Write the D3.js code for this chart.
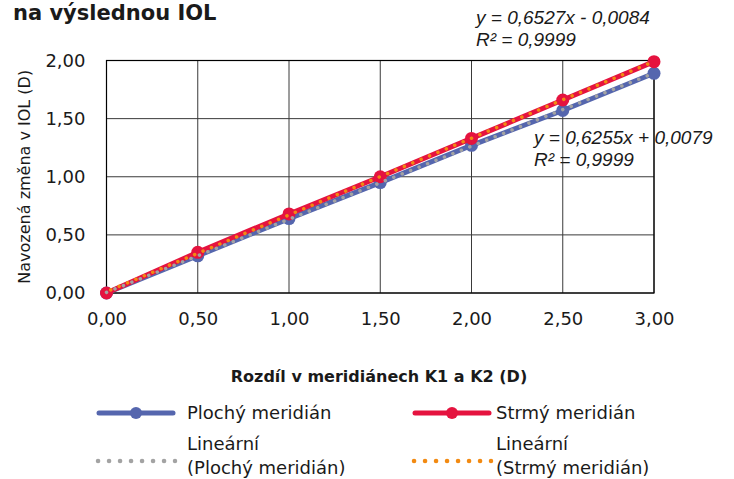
<!DOCTYPE html>
<html>
<head>
<meta charset="utf-8">
<script src="https://cdn.jsdelivr.net/npm/d3@7"></script>
<style>
  body { margin: 0; background: #fff; }
  text { font-family: "DejaVu Sans", sans-serif; fill: #1a1a1a; }
  .eq { font-family: "Liberation Sans", Arial, sans-serif; font-style: italic; }
</style>
</head>
<body>
<svg width="734" height="479"></svg>
<script>
var xValues = [0, 0.5, 1.0, 1.5, 2.0, 2.5, 3.0];
var plochy = [0, 0.32, 0.64, 0.95, 1.27, 1.57, 1.89];
var strmy = [0, 0.35, 0.68, 1.00, 1.33, 1.66, 1.99];
var seriesNames = ['Plochý meridián', 'Strmý meridián'];
var eqLabels = [['y = 0,6255x + 0,0079', 'R² = 0,9999'], ['y = 0,6527x - 0,0084', 'R² = 0,9999']];
var xTicks = [0, 0.5, 1, 1.5, 2, 2.5, 3];
var yTicks = [0, 0.5, 1, 1.5, 2];

var colors = ['#5566AE', '#E5133F'];
var trendColors = ['#A3A3A3', '#F28A12'];

var svg = d3.select('svg');
var plotLeft = 106.5, plotRight = 654, plotTop = 60.5, plotBottom = 293;

var x = d3.scaleLinear().domain([0, 3]).range([plotLeft, plotRight]);
var y = d3.scaleLinear().domain([0, 2]).range([plotBottom, plotTop]);
var fmt = function(d) { return d3.format('.2f')(d).replace('.', ','); };

// least squares trendline, like Excel's linear trendline
function fit(vals) {
    var mx = d3.mean(xValues), my = d3.mean(vals);
    var num = d3.sum(vals, function(v, i) { return (xValues[i] - mx) * (v - my); });
    var den = d3.sum(xValues, function(v) { return (v - mx) * (v - mx); });
    var k = num / den;
    return { k: k, q: my - k * mx };
}

// title (cut off at top in original)
svg.append('text').attr('x', 13).attr('y', 20)
    .style('font-size', '21px').style('font-weight', 'bold')
    .text('na výslednou IOL');

// grid
var grid = svg.append('g');
grid.selectAll('line.gx').data(xTicks).join('line')
    .attr('class', 'gx')
    .attr('x1', function(d) { return x(d); }).attr('x2', function(d) { return x(d); })
    .attr('y1', plotTop).attr('y2', plotBottom)
    .style('stroke', '#3a3a3a').style('stroke-width', 1);
grid.selectAll('line.gy').data(yTicks).join('line')
    .attr('class', 'gy')
    .attr('x1', plotLeft).attr('x2', plotRight)
    .attr('y1', function(d) { return y(d); }).attr('y2', function(d) { return y(d); })
    .style('stroke', '#3a3a3a').style('stroke-width', 1);
svg.append('rect').attr('x', plotLeft).attr('y', plotTop)
    .attr('width', plotRight - plotLeft).attr('height', plotBottom - plotTop)
    .style('fill', 'none').style('stroke', '#000').style('stroke-width', 1.2);

// axes labels
var xAxis = d3.axisBottom(x).tickValues(xTicks).tickFormat(fmt).tickSize(0).tickPadding(19);
var gx = svg.append('g').attr('transform', 'translate(0,' + plotBottom + ')').call(xAxis);
gx.select('.domain').remove();
gx.selectAll('text').style('font-size', '18px').style('font-family', '"DejaVu Sans", sans-serif');

var yAxis = d3.axisLeft(y).tickValues(yTicks).tickFormat(fmt).tickSize(0).tickPadding(21);
var gy = svg.append('g').attr('transform', 'translate(' + plotLeft + ',0)').call(yAxis);
gy.select('.domain').remove();
gy.selectAll('text').style('font-size', '18px').style('font-family', '"DejaVu Sans", sans-serif');

svg.append('text')
    .attr('transform', 'translate(30,' + ((plotTop + plotBottom) / 2) + ') rotate(-90)')
    .attr('text-anchor', 'middle')
    .style('font-size', '16px')
    .text('Navozená změna v IOL (D)');

svg.append('text').attr('x', 379).attr('y', 382)
    .attr('text-anchor', 'middle')
    .style('font-size', '16px').style('font-weight', 'bold')
    .text('Rozdíl v meridiánech K1 a K2 (D)');

// series
var seriesData = [plochy, strmy];
var line = d3.line()
    .x(function(d, i) { return x(xValues[i]); })
    .y(function(d) { return y(d); });

seriesData.forEach(function(vals, s) {
    svg.append('path').datum(vals)
        .attr('d', line)
        .style('fill', 'none').style('stroke', colors[s])
        .style('stroke-width', 5).style('stroke-linejoin', 'round');
    svg.append('g').selectAll('circle').data(vals).join('circle')
        .attr('cx', function(d, i) { return x(xValues[i]); })
        .attr('cy', function(d) { return y(d); })
        .attr('r', 6.5)
        .style('fill', colors[s]);
});

// trendlines
seriesData.forEach(function(vals, s) {
    var f = fit(vals);
    var x0 = xValues[0], x1 = xValues[xValues.length - 1];
    svg.append('line')
        .attr('x1', x(x0)).attr('y1', y(f.k * x0 + f.q))
        .attr('x2', x(x1)).attr('y2', y(f.k * x1 + f.q))
        .style('stroke', trendColors[s]).style('stroke-width', 3.5)
        .style('stroke-linecap', 'round').style('stroke-dasharray', '0.1 9')
        .style('stroke-dashoffset', s * 4.5);
});

// equations
var eqPos = [[534, 144], [476, 24]];
eqLabels.forEach(function(lines, s) {
    var t = svg.append('text').attr('class', 'eq').style('font-size', '19px');
    lines.forEach(function(l, k) {
        t.append('tspan').attr('x', eqPos[s][0]).attr('y', eqPos[s][1] + k * 22).text(l);
    });
});

// legend
var legX = [99, 415], textX = [187, 496];
seriesNames.forEach(function(name, s) {
    var g = svg.append('g');
    g.append('line').attr('x1', legX[s]).attr('x2', legX[s] + 74)
        .attr('y1', 413).attr('y2', 413)
        .style('stroke', colors[s]).style('stroke-width', 5).style('stroke-linecap', 'round');
    g.append('circle').attr('cx', legX[s] + 37).attr('cy', 413).attr('r', 6).style('fill', colors[s]);
    g.append('text').attr('x', textX[s]).attr('y', 419).style('font-size', '18px').text(name);

    g.append('line').attr('x1', legX[s] - 1).attr('x2', legX[s] + 76)
        .attr('y1', 461).attr('y2', 461)
        .style('stroke', trendColors[s]).style('stroke-width', 4.5)
        .style('stroke-linecap', 'round').style('stroke-dasharray', '0.1 10.9');
    var t = g.append('text').style('font-size', '18px');
    t.append('tspan').attr('x', textX[s]).attr('y', 450).text('Lineární');
    t.append('tspan').attr('x', textX[s]).attr('y', 474).text('(' + name + ')');
});
</script>
</body>
</html>
